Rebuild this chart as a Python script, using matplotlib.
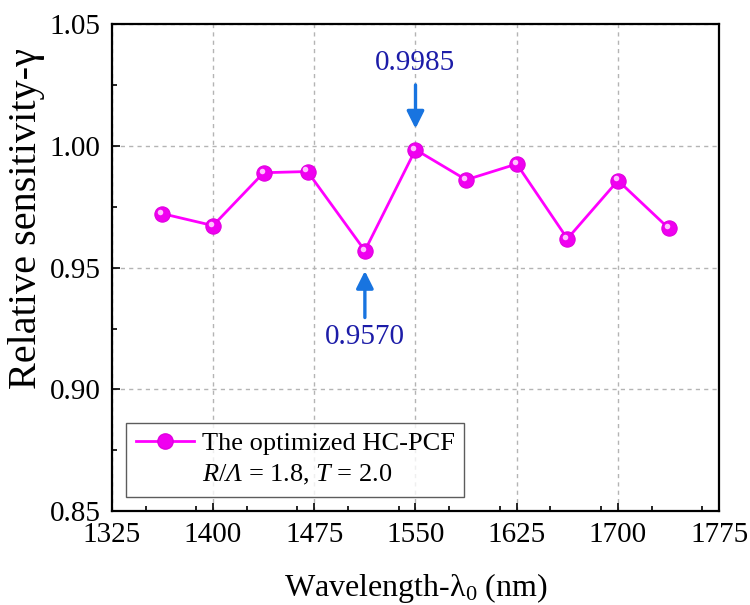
import matplotlib
matplotlib.use("Agg")
import matplotlib.pyplot as plt
from matplotlib.lines import Line2D
from matplotlib.ticker import MultipleLocator, FormatStrFormatter
from matplotlib.transforms import offset_copy

plt.rcParams["font.family"] = ["Liberation Serif", "DejaVu Serif"]
plt.rcParams["mathtext.fontset"] = "custom"
plt.rcParams["mathtext.rm"] = "Liberation Serif"
plt.rcParams["mathtext.it"] = "Liberation Serif:italic"
# mathtext keeps capital Greek upright in "it", so use "sf" for an italic Lambda
plt.rcParams["mathtext.sf"] = "Liberation Serif:italic"

# wavelength (nm) and relative sensitivity
wavelength = [1362.5, 1400, 1437.5, 1470, 1512.5, 1550, 1587.5, 1625, 1662.5, 1700, 1737.5]
gamma = [0.9722, 0.9673, 0.9890, 0.9895, 0.9570, 0.9985, 0.9861, 0.9926, 0.9619, 0.9858, 0.9662]

x_ticks = [1325, 1400, 1475, 1550, 1625, 1700, 1775]
y_ticks = [0.85, 0.90, 0.95, 1.00, 1.05]

peak_wl, peak_val = 1550, 0.9985
dip_wl, dip_val = 1512.5, 0.9570

fig = plt.figure(figsize=(7.5, 6.05), dpi=100)
ax = fig.add_axes([0.149, 0.155, 0.81, 0.805])

ax.grid(True, color="#b4b4b4", linestyle=(0, (3, 3)), linewidth=1.0)
ax.set_axisbelow(True)

# line + "ball" markers with a small highlight up-left
ax.plot(wavelength, gamma, color="#ff00ff", linewidth=2.0, marker="o",
        markersize=11, markerfacecolor="#f000f0", markeredgecolor="#e000e0",
        markeredgewidth=0.8, zorder=3)
shine = offset_copy(ax.transData, fig=fig, x=-1.5, y=1.5, units="points")
ax.plot(wavelength, gamma, linestyle="none", marker="o", markersize=4,
        markerfacecolor="#ffc0ff", markeredgecolor="none", zorder=4,
        transform=shine)

arrow_color = "#1874e0"
text_color = "#1c1ca8"
ax.annotate("", xy=(peak_wl, peak_val + 0.0075), xytext=(peak_wl, 1.0262),
            arrowprops=dict(arrowstyle="-|>", color=arrow_color, lw=2.4,
                            mutation_scale=26))
ax.text(peak_wl, 1.034, f"{peak_val:.4f}", color=text_color, fontsize=21,
        ha="center", va="center")
ax.annotate("", xy=(dip_wl, dip_val - 0.0072), xytext=(dip_wl, 0.9284),
            arrowprops=dict(arrowstyle="-|>", color=arrow_color, lw=2.4,
                            mutation_scale=26))
ax.text(dip_wl, 0.9215, f"{dip_val:.4f}", color=text_color, fontsize=21,
        ha="center", va="center")

ax.set_xlim(x_ticks[0], x_ticks[-1])
ax.set_ylim(y_ticks[0], y_ticks[-1])
ax.set_xticks(x_ticks)
ax.set_yticks(y_ticks)
ax.xaxis.set_minor_locator(MultipleLocator(37.5))
ax.yaxis.set_minor_locator(MultipleLocator(0.025))
ax.yaxis.set_major_formatter(FormatStrFormatter("%.2f"))
ax.tick_params(which="major", direction="in", length=6, width=1.2,
               labelsize=21, pad=8)
ax.tick_params(which="minor", direction="in", length=3.5, width=1.2)
for side in ax.spines.values():
    side.set_linewidth(1.6)

ax.set_xlabel("Wavelength-λ$_0$ (nm)", fontsize=23, labelpad=16)
ax.set_ylabel("Relative sensitivity-γ", fontsize=29)
ax.yaxis.set_label_coords(-0.11, 0.60)

h1 = Line2D([], [], color="#ff00ff", linewidth=2.0, marker="o", markersize=11,
            markerfacecolor="#f000f0", markeredgecolor="#e000e0")
h2 = Line2D([], [], linestyle="none")
leg = ax.legend([h1, h2],
                ["The optimized HC-PCF",
                 r"$\mathit{R}$/$\mathsf{Λ}$ = 1.8, $\mathit{T}$ = 2.0"],
                loc="lower left", bbox_to_anchor=(0.024, 0.03),
                fontsize=19, frameon=True, fancybox=False, edgecolor="#333333",
                handlelength=2.2, handletextpad=0.3, borderpad=0.35,
                labelspacing=0.3, borderaxespad=0.0)
leg.get_frame().set_linewidth(1.0)

fig.savefig("out.png", dpi=100)
